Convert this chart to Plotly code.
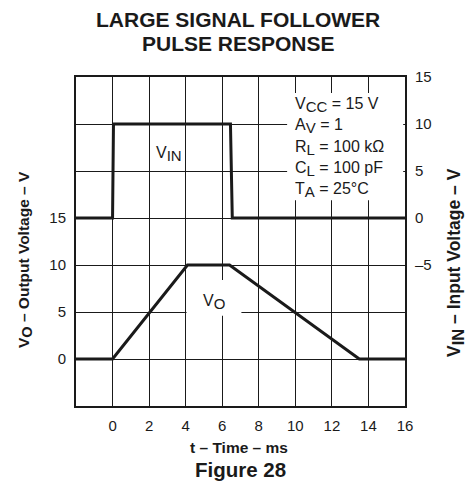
import plotly.graph_objects as go

# Input pulse (right axis, V) and follower output (left axis, V) versus time (ms)
t_in = [-2, 0, 0.05, 6.45, 6.55, 16]
v_in = [0, 0, 10, 10, 0, 0]
t_out = [-2, 0, 4.1, 6.4, 13.5, 16]
v_out = [0, 0, 10, 10, 0, 0]

x_ticks = [0, 2, 4, 6, 8, 10, 12, 14, 16]
left_ticks = [0, 5, 10, 15, 20, 25]
left_labels = ["0", "5", "10", "15", "", ""]
right_ticks = [-15, -10, -5, 0, 5, 10, 15]
right_labels = ["", "", "\u20135", "0", "5", "10", "15"]

FONT = "Liberation Sans, Arial, sans-serif"
INK = "#1a1a1a"


def sub(s, size):
    # subscript kept close to full size
    return f'<sub><span style="font-size:{size}px">{s}</span></sub>'


conditions = [
    "V" + sub("CC", 15) + " = 15 V",
    "A" + sub("V", 15) + " = 1",
    "R" + sub("L", 15) + " = 100 k\u03a9",
    "C" + sub("L", 15) + " = 100 pF",
    "T" + sub("A", 15) + " = 25\u00b0C",
]

# plot-area geometry in pixels
L, R, T, B = 76, 405, 77, 406
W, H = 466, 482


def py(p):
    return (B - p) / (B - T)


def px(p):
    return (p - L) / (R - L)


fig = go.Figure()
fig.add_trace(go.Scatter(x=t_out, y=v_out, mode="lines",
                         line=dict(color=INK, width=3), yaxis="y"))
fig.add_trace(go.Scatter(x=t_in, y=v_in, mode="lines",
                         line=dict(color=INK, width=3), yaxis="y2"))

# white panels behind the labels hide the grid lines
fig.add_shape(type="rect", xref="x", yref="y", x0=9.55, x1=15.9, y0=16.9, y1=28.3,
              fillcolor="white", line=dict(width=0), layer="between")
fig.add_shape(type="rect", xref="x", yref="y", x0=4.05, x1=7.05, y0=4.6, y1=8.4,
              fillcolor="white", line=dict(width=0), layer="between")

ann = []


def label(x, y, text, size, xref="paper", yref="paper", angle=0, xanchor="center"):
    ann.append(dict(x=x, y=y, xref=xref, yref=yref, text=text, showarrow=False,
                    xanchor=xanchor, yanchor="middle", textangle=angle,
                    font=dict(family=FONT, size=size, color=INK)))


cond_y = [27.0, 24.8, 22.5, 20.2, 18.0]
for txt, yy in zip(conditions, cond_y):
    label(9.85, yy, txt, 16, xref="x", yref="y", xanchor="left")
label(3.1, 21.8, "V" + sub("IN", 15), 16, xref="x", yref="y")
label(5.55, 6.1, "V" + sub("O", 15), 16, xref="x", yref="y")

# titles
label(px(238), py(20), "<b>LARGE SIGNAL FOLLOWER</b>", 21)
label(px(238), py(44), "<b>PULSE RESPONSE</b>", 21)
label(px(239), py(447), "<b>t \u2013 Time \u2013 ms</b>", 15.5)
label(px(240), py(469), "<b>Figure 28</b>", 20.5)
label(px(25), py(260), "<b>V" + sub("O", 14.5) + " \u2013 Output Voltage \u2013 V</b>", 15.5, angle=-90)
label(px(455), py(263), "<b>V" + sub("IN", 16.5) + " \u2013 Input Voltage \u2013 V</b>", 17.5, angle=-90)

axis_font = dict(family=FONT, size=15, color=INK)

fig.update_layout(
    width=W, height=H,
    margin=dict(l=L, r=W - R, t=T, b=H - B),
    paper_bgcolor="white", plot_bgcolor="white",
    showlegend=False,
    annotations=ann,
    xaxis=dict(range=[-2, 16], tickvals=x_ticks, showgrid=True, gridcolor=INK, gridwidth=1,
               showline=True, linecolor=INK, linewidth=2, mirror=True, zeroline=False,
               ticks="", ticklabelstandoff=5, tickfont=axis_font, fixedrange=True),
    yaxis=dict(range=[-5, 30], tickvals=left_ticks, ticktext=left_labels,
               showgrid=True, gridcolor=INK, gridwidth=1,
               showline=True, linecolor=INK, linewidth=2, mirror=True, zeroline=False,
               ticks="", ticklabelstandoff=5, tickfont=axis_font, fixedrange=True),
    yaxis2=dict(range=[-20, 15], tickvals=right_ticks, ticktext=right_labels,
                overlaying="y", side="right", showgrid=False, zeroline=False,
                showline=False, ticks="", ticklabelstandoff=9,
                tickfont=axis_font, fixedrange=True),
)

fig.write_html("out.html")
